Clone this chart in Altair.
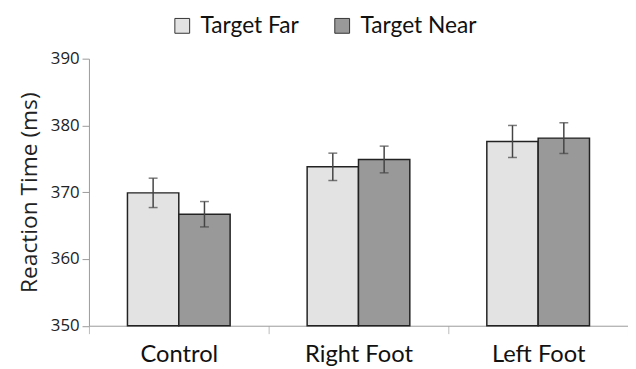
import altair as alt
import pandas as pd

conditions = ["Control", "Right Foot", "Left Foot"]
targets = ["Target Far", "Target Near"]
far_mean = [369.9, 373.8, 377.6]
near_mean = [366.7, 374.9, 378.1]
far_err = [2.2, 2.05, 2.4]
near_err = [1.9, 2.0, 2.3]

rows = []
for i, c in enumerate(conditions):
    rows.append({"cond": c, "target": "Target Far", "mean": far_mean[i],
                 "lo": far_mean[i] - far_err[i], "hi": far_mean[i] + far_err[i]})
    rows.append({"cond": c, "target": "Target Near", "mean": near_mean[i],
                 "lo": near_mean[i] - near_err[i], "hi": near_mean[i] + near_err[i]})
df = pd.DataFrame(rows)

x = alt.X("cond:N", sort=conditions, title=None,
          scale=alt.Scale(paddingInner=0, paddingOuter=0),
          axis=alt.Axis(labelAngle=0, tickBand="extent", domainColor="#999999",
                        tickColor="#bbbbbb", tickSize=8, labelPadding=9,
                        labelFont="Lato", labelFontSize=24, labelColor="#111111"))
xo = alt.XOffset("target:N", sort=targets,
                 scale=alt.Scale(paddingInner=0, paddingOuter=0.75))
y_scale = alt.Scale(domain=[350, 390], nice=False, zero=False)

bars = alt.Chart(df).mark_bar(stroke="#222222", strokeWidth=1.5).encode(
    x=x,
    xOffset=xo,
    y=alt.Y("mean:Q", scale=y_scale, title="Reaction Time (ms)",
            axis=alt.Axis(values=[350, 360, 370, 380, 390], grid=False,
                          domainColor="#999999", tickColor="#999999", tickSize=7,
                          labelPadding=3, labelFont="Open Sans", labelFontSize=17,
                          labelColor="#222222", titleFont="Open Sans",
                          titleFontSize=23, titleFontWeight="normal",
                          titleColor="#222222", titlePadding=9)),
    y2=alt.Y2(datum=350),
    color=alt.Color("target:N", sort=targets,
                    scale=alt.Scale(domain=targets, range=["#e3e3e3", "#999999"]),
                    legend=alt.Legend(title=None, orient="none", direction="horizontal",
                                      legendX=83, legendY=-45, symbolType="square",
                                      symbolSize=225, symbolStrokeColor="#333333",
                                      symbolStrokeWidth=1, labelFont="Lato",
                                      labelFontSize=23, labelColor="#111111",
                                      labelOffset=7, columnPadding=32)),
)

rules = alt.Chart(df).mark_rule(color="#444444", strokeWidth=1.5).encode(
    x=x, xOffset=xo,
    y=alt.Y("lo:Q", scale=y_scale), y2="hi:Q",
)
caps_lo = alt.Chart(df).mark_tick(color="#444444", thickness=1.5, size=9, orient="horizontal").encode(
    x=x, xOffset=xo, y=alt.Y("lo:Q", scale=y_scale),
)
caps_hi = alt.Chart(df).mark_tick(color="#444444", thickness=1.5, size=9, orient="horizontal").encode(
    x=x, xOffset=xo, y=alt.Y("hi:Q", scale=y_scale),
)

chart = alt.layer(bars, rules, caps_lo, caps_hi).properties(
    width=546, height=270.5,
    autosize=alt.AutoSizeParams(type="none"),
    padding={"left": 82, "top": 49, "right": 0, "bottom": 41},
).configure_view(stroke=None)

chart.save("out.html", embed_options={"renderer": "svg", "actions": False})
